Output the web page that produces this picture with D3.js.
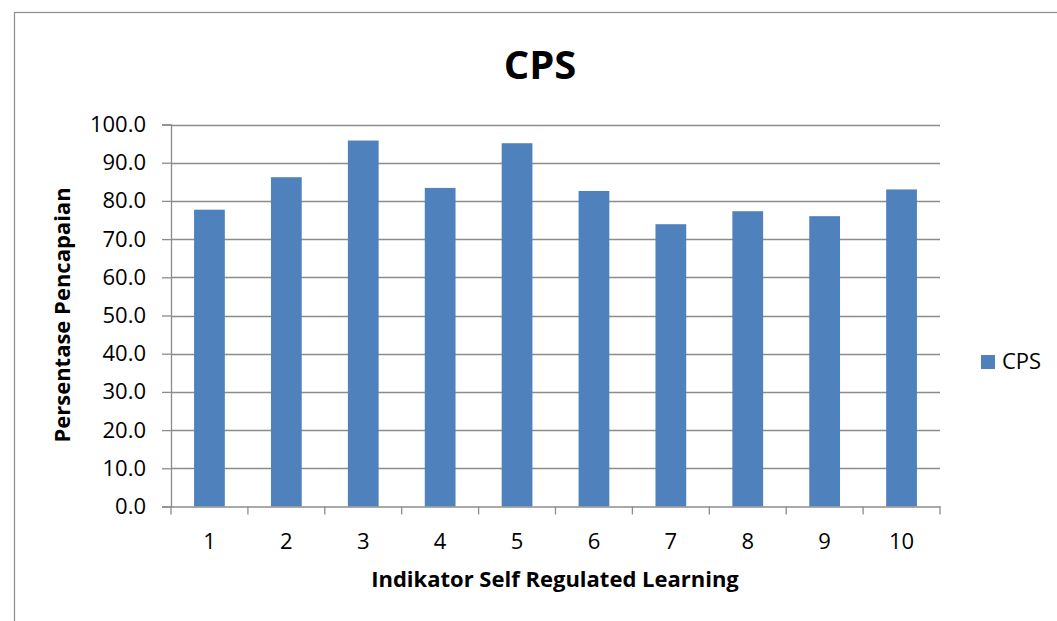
<!DOCTYPE html>
<html><head><meta charset="utf-8">
<script src="https://cdn.jsdelivr.net/npm/d3@7"></script>
<style>body{margin:0;background:#fff}svg{display:block}text{font-family:"Open Sans",sans-serif;fill:#000}</style>
</head><body>
<script>
const categories = ["1","2","3","4","5","6","7","8","9","10"];
const values = [77.7, 86.2, 95.8, 83.4, 95.1, 82.6, 73.9, 77.3, 76.0, 83.0];
const yTicks = [0,10,20,30,40,50,60,70,80,90,100];
const seriesName = "CPS";
const title = "CPS";
const xTitle = "Indikator Self Regulated Learning";
const yTitle = "Persentase Pencapaian";

const W = 1057, H = 621;
const FF = "'Open Sans',sans-serif";
const svg = d3.select("body").append("svg").attr("width", W).attr("height", H);
svg.append("rect").attr("x",14.5).attr("y",12.5).attr("width",1100).attr("height",700)
  .attr("fill","#fff").attr("stroke","#8c8c8c").attr("stroke-width",1.2);

const L = 171, R = 940, T = 124.5, B = 506.5;
const x = d3.scaleBand().domain(categories).range([L, R]).paddingInner(0.6).paddingOuter(0.3);
const xb = d3.scaleBand().domain(categories).range([L, R]);
const y = d3.scaleLinear().domain([0, 100]).range([B, T]);

// gridlines
svg.append("g").selectAll("line").data(yTicks.filter(d=>d>0)).join("line")
  .attr("x1", L).attr("x2", R).attr("y1", d=>Math.round(y(d))+0.5).attr("y2", d=>Math.round(y(d))+0.5)
  .attr("stroke","#8c8c8c").attr("stroke-width",1.3);

// bars
svg.append("g").selectAll("rect").data(values).join("rect")
  .attr("x",(d,i)=>x(categories[i])).attr("width",x.bandwidth())
  .attr("y",d=>y(d)).attr("height",d=>B-y(d))
  .attr("fill","#4F81BD");

// y axis
const ya = svg.append("g").attr("transform",`translate(${L},0)`)
  .call(d3.axisLeft(y).tickValues(yTicks).tickFormat(d3.format(".1f")).tickSize(9).tickPadding(16));
ya.attr("font-family",FF).attr("font-size",22);
ya.select(".domain").attr("stroke","#8c8c8c").attr("stroke-width",1.3);
ya.selectAll(".tick line").attr("stroke","#8c8c8c").attr("stroke-width",1.3);
ya.selectAll("text").attr("fill","#000");

// x axis
const xa = svg.append("g").attr("transform",`translate(0,${B})`)
  .call(d3.axisBottom(xb).tickSize(0).tickPadding(27));
xa.attr("font-family",FF).attr("font-size",22);
xa.select(".domain").attr("stroke","#8c8c8c").attr("stroke-width",1.3);
xa.selectAll("text").attr("fill","#000");
svg.append("g").selectAll("line").data(categories.concat(["end"])).join("line")
  .attr("x1",(d,i)=>L+i*xb.step()).attr("x2",(d,i)=>L+i*xb.step())
  .attr("y1",B).attr("y2",B+8).attr("stroke","#8c8c8c").attr("stroke-width",1.3);

// titles
svg.append("text").attr("x",540).attr("y",79).attr("text-anchor","middle")
  .attr("font-size",40).attr("font-weight","bold").text(title);
svg.append("text").attr("x",555).attr("y",587).attr("text-anchor","middle")
  .attr("font-size",22).attr("font-weight","bold").text(xTitle);
svg.append("text").attr("transform","translate(70,315) rotate(-90)").attr("text-anchor","middle")
  .attr("font-size",22).attr("font-weight","bold").text(yTitle);

// legend
svg.append("rect").attr("x",981).attr("y",355).attr("width",14).attr("height",14).attr("fill","#4F81BD");
svg.append("text").attr("x",1002).attr("y",369).attr("font-size",22).text(seriesName);
</script>
</body></html>
